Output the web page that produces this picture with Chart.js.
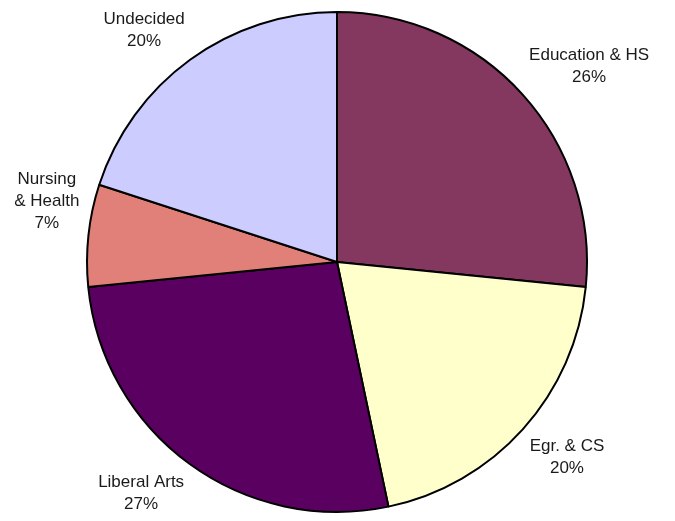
<!DOCTYPE html>
<html>
<head>
<meta charset="utf-8">
<script src="https://cdn.jsdelivr.net/npm/chart.js@4/dist/chart.umd.min.js"></script>
<style>
  html, body { margin: 0; padding: 0; background: #fff; }
  #wrap { position: relative; width: 675px; height: 521px; }
</style>
</head>
<body>
<div id="wrap"><canvas id="pie"></canvas></div>
<script>
// ── Data ──
const categories = ['Education & HS', 'Egr. & CS', 'Liberal Arts', 'Nursing & Health', 'Undecided'];
const labelLines = [['Education & HS'], ['Egr. & CS'], ['Liberal Arts'], ['Nursing', '& Health'], ['Undecided']];
const shares = [26.6, 20.1, 26.7, 6.6, 20.0];
const shareLabels = ['26%', '20%', '27%', '7%', '20%'];
const sliceColors = ['#843860', '#ffffcc', '#5a0060', '#e08078', '#ccccff'];

// Excel-style outside labels: box corner sits just off the slice's mid point
const outsideLabels = {
  id: 'outsideLabels',
  afterDatasetsDraw(chart) {
    const ctx = chart.ctx;
    const arcs = chart.getDatasetMeta(0).data;
    const lineH = 22, gap = 9;
    ctx.save();
    ctx.font = '17px "Liberation Sans", Arial, sans-serif';
    ctx.fillStyle = '#1a1a1a';
    ctx.textAlign = 'center';
    ctx.textBaseline = 'middle';
    arcs.forEach((arc, i) => {
      const mid = (arc.startAngle + arc.endAngle) / 2;
      const dx = Math.cos(mid), dy = Math.sin(mid);
      const r = arc.outerRadius + gap;
      const ax = arc.x + dx * r, ay = arc.y + dy * r;
      const lines = [...labelLines[i], shareLabels[i]];
      const w = Math.max(...lines.map(t => ctx.measureText(t).width));
      const h = lines.length * lineH;
      const cx = ax + Math.sign(dx) * w / 2;
      const cy = ay + Math.sign(dy) * h / 2;
      lines.forEach((t, j) => {
        ctx.fillText(t, cx, cy - h / 2 + lineH * (j + 0.5));
      });
    });
    ctx.restore();
  }
};

new Chart(document.getElementById('pie'), {
  type: 'pie',
  data: {
    labels: categories,
    datasets: [{
      data: shares,
      backgroundColor: sliceColors,
      borderColor: '#000',
      borderWidth: 2,
    }],
  },
  options: {
    responsive: true,
    maintainAspectRatio: false,
    animation: false,
    layout: { padding: { top: 11, bottom: 8, left: 0, right: 1 } },
    plugins: { legend: { display: false }, tooltip: { enabled: false } },
  },
  plugins: [outsideLabels],
});
</script>
</body>
</html>
